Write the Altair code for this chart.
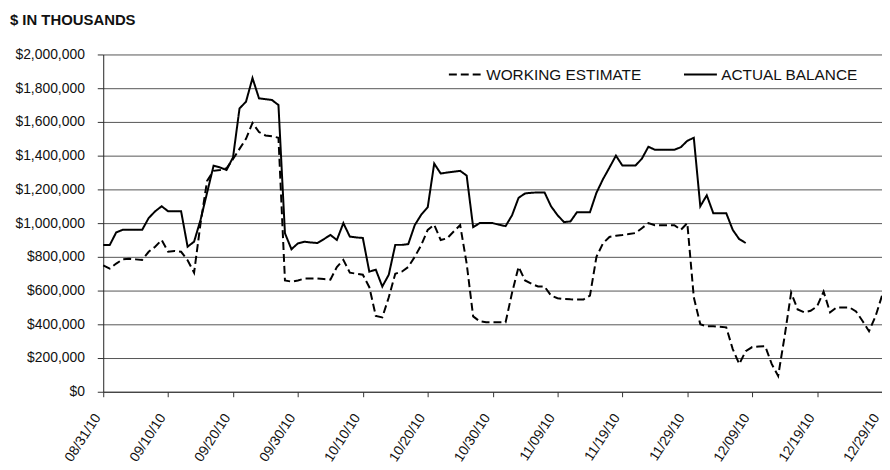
import altair as alt
import pandas as pd

start = pd.Timestamp("2010-08-31")

actual_vals = [870, 870, 945, 960, 960, 960, 960, 1030, 1070, 1100,
               1070, 1070, 1070, 860, 890, 1020, 1180, 1340, 1330, 1315,
               1390, 1680, 1720, 1860, 1740, 1735, 1730, 1700, 940, 845,
               880, 890, 885, 882, 905, 930, 900, 1000, 920, 915,
               912, 712, 724, 624, 694, 871, 871, 875, 988, 1050,
               1094, 1353, 1294, 1300, 1305, 1310, 1282, 976, 1000, 1000,
               1000, 990, 982, 1047, 1150, 1176, 1180, 1182, 1182, 1100,
               1047, 1006, 1010, 1065, 1065, 1065, 1180, 1260, 1329, 1400,
               1341, 1341, 1341, 1382, 1453, 1435, 1435, 1435, 1435, 1450,
               1488, 1506, 1100, 1165, 1059, 1059, 1059, 960, 905, 882]

estimate_vals = [750, 730, 760, 785, 788, 785, 782, 830, 860, 900,
                 830, 835, 830, 780, 706, 1000, 1250, 1310, 1315, 1325,
                 1380, 1440, 1500, 1594, 1540, 1520, 1515, 1506, 660, 653,
                 660, 671, 671, 671, 668, 665, 740, 782, 706, 700,
                 694, 620, 450, 441, 560, 700, 712, 740, 800, 870,
                 960, 990, 900, 910, 950, 988, 760, 447, 418, 412,
                 412, 412, 412, 588, 741, 660, 640, 624, 624, 570,
                 555, 550, 548, 547, 547, 570, 800, 880, 918, 925,
                 929, 935, 941, 970, 1000, 988, 988, 988, 988, 960,
                 1000, 560, 400, 388, 388, 385, 382, 253, 165, 241,
                 265, 268, 271, 165, 94, 330, 588, 488, 471, 480,
                 506, 594, 471, 500, 500, 500, 476, 420, 359, 447, 570]

series_names = ["WORKING ESTIMATE", "ACTUAL BALANCE"]
tick_offsets = [0, 10, 20, 30, 40, 50, 60, 70, 80, 90, 100, 110, 120]

rows = []
for i, v in enumerate(estimate_vals):
    d = start + pd.Timedelta(days=i)
    rows.append({"date": d.strftime("%Y-%m-%dT00:00:00"), "value": v * 1000, "series": series_names[0]})
for i, v in enumerate(actual_vals):
    d = start + pd.Timedelta(days=i)
    rows.append({"date": d.strftime("%Y-%m-%dT00:00:00"), "value": v * 1000, "series": series_names[1]})
df = pd.DataFrame(rows)

tick_values = []
for o in tick_offsets:
    d = start + pd.Timedelta(days=o)
    tick_values.append(alt.DateTime(year=d.year, month=d.month, date=d.day))

FONT = "Liberation Sans"

chart = alt.Chart(df).mark_line(color="black", strokeWidth=2).encode(
    x=alt.X("date:T",
            scale=alt.Scale(domain=[alt.DateTime(year=2010, month=8, date=31),
                                    alt.DateTime(year=2010, month=12, date=29)]),
            axis=alt.Axis(values=tick_values, format="%m/%d/%y", title=None,
                          labelAngle=-57, labelAlign="right", labelBaseline="bottom",
                          grid=False, tickColor="#333", tickSize=5,
                          labelFontSize=14, labelFont=FONT, labelColor="#111",
                          domainColor="#333", labelPadding=22, labelOffset=0)),
    y=alt.Y("value:Q",
            scale=alt.Scale(domain=[0, 2000000]),
            axis=alt.Axis(values=list(range(0, 2000001, 200000)), format="$,.0f",
                          title=None, gridColor="#555", gridWidth=1,
                          tickSize=6, tickColor="#333", domainColor="#222",
                          labelPadding=13,
                          labelFontSize=14, labelFont=FONT, labelColor="#111")),
    strokeDash=alt.StrokeDash("series:N",
                              scale=alt.Scale(domain=series_names, range=[[8, 4], [1, 0]]),
                              legend=alt.Legend(title=None, orient="none", direction="horizontal",
                                                legendX=347, legendY=2,
                                                symbolType="stroke", symbolSize=1100,
                                                symbolStrokeWidth=2, symbolStrokeColor="black",
                                                labelFontSize=15.5, labelFont=FONT,
                                                labelColor="#111", columnPadding=38,
                                                labelOffset=3)),
).properties(
    width=785, height=340,
    autosize=alt.AutoSizeParams(type="none"),
    title=alt.TitleParams("$ IN THOUSANDS", anchor="start", fontSize=15, font=FONT,
                          fontWeight="bold", color="#111", offset=20, dx=-5),
    padding={"left": 96, "top": 45, "right": 0, "bottom": 74},
).configure_view(stroke=None).configure_title(frame="bounds")

chart.save("out.html", embed_options={"renderer": "svg", "actions": False})
